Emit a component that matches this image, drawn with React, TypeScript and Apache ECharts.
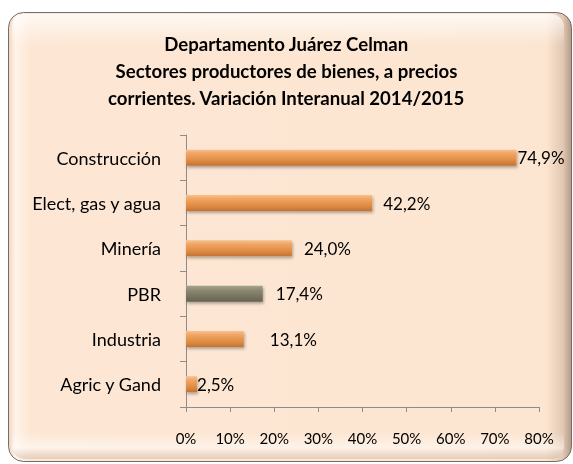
import React, { useEffect, useRef } from "react";
import * as echarts from "echarts";

const categories = ["Construcción", "Elect, gas y agua", "Minería", "PBR", "Industria", "Agric y Gand"];
const values = [74.9, 42.2, 24.0, 17.4, 13.1, 2.5];
const highlighted = ["PBR"];
const xTicks = [0, 10, 20, 30, 40, 50, 60, 70, 80];
const titleLines = [
  "Departamento Juárez Celman",
  "Sectores productores de bienes, a precios",
  "corrientes. Variación Interanual 2014/2015",
];
// label styling (distance from bar end, px) — styling only
const labelDistances = [1, 11, 12, 13, 26, 0];

const FONT = "Lato, 'Noto Sans', sans-serif";

export default function App() {
  const ref = useRef<HTMLDivElement>(null);
  useEffect(() => {
    if (!ref.current) return;
    const chart = echarts.init(ref.current, undefined, { renderer: "svg" });
    const orange = new echarts.graphic.LinearGradient(0, 0, 0, 1, [
      { offset: 0, color: "#F8C08E" },
      { offset: 0.25, color: "#F1A462" },
      { offset: 0.65, color: "#E08D46" },
      { offset: 1, color: "#C47232" },
    ]);
    const gray = new echarts.graphic.LinearGradient(0, 0, 0, 1, [
      { offset: 0, color: "#A7A48E" },
      { offset: 0.3, color: "#8B8871" },
      { offset: 1, color: "#65624F" },
    ]);
    chart.setOption({
      animation: false,
      textStyle: { fontFamily: FONT },
      graphic: [
        {
          type: "rect",
          z: -10,
          silent: true,
          shape: { x: 8.5, y: 12.5, width: 563, height: 449, r: 15 },
          style: {
            fill: new echarts.graphic.LinearGradient(0, 0, 1, 0, [
              { offset: 0, color: "#F2D5BE" },
              { offset: 0.012, color: "#FFF3E9" },
              { offset: 0.04, color: "#FDE7D4" },
              { offset: 0.955, color: "#FCE5D1" },
              { offset: 0.985, color: "#E2C7B1" },
              { offset: 1, color: "#B39A86" },
            ]),
            stroke: "#6E6E6E",
            lineWidth: 1,
          },
        },
        {
          type: "rect",
          z: -9,
          silent: true,
          shape: { x: 12, y: 14, width: 552, height: 445, r: 13 },
          style: {
            fill: new echarts.graphic.LinearGradient(0, 0, 0, 1, [
              { offset: 0, color: "rgba(255,255,255,0.75)" },
              { offset: 0.07, color: "rgba(255,255,255,0)" },
              { offset: 0.94, color: "rgba(255,255,255,0)" },
              { offset: 0.975, color: "rgba(255,255,255,0.5)" },
              { offset: 1, color: "rgba(200,170,150,0.4)" },
            ]),
          },
        },
        ...titleLines.map((t, i) => ({
          type: "text",
          left: "center",
          top: 34 + i * 27,
          style: {
            text: t,
            font: `bold 18.6px ${FONT}`,
            fill: "#000",
          },
        })),
      ],
      grid: { left: 186, right: 34, top: 135, bottom: 57, containLabel: false },
      xAxis: {
        type: "value",
        min: xTicks[0],
        max: xTicks[xTicks.length - 1],
        interval: xTicks[1] - xTicks[0],
        axisLine: { show: true, lineStyle: { color: "#8C8C8C" } },
        axisTick: { show: true, length: 5, lineStyle: { color: "#8C8C8C" } },
        splitLine: { show: false },
        axisLabel: { formatter: "{value}%", fontSize: 15, color: "#000", margin: 23, fontFamily: FONT },
      },
      yAxis: {
        type: "category",
        inverse: true,
        data: categories,
        axisLine: { show: true, lineStyle: { color: "#8C8C8C" } },
        axisTick: { show: true, length: 6, alignWithLabel: false, lineStyle: { color: "#8C8C8C" } },
        axisLabel: { fontSize: 18, color: "#000", margin: 25, fontFamily: FONT },
      },
      series: [
        {
          type: "bar",
          barWidth: 16,
          data: values.map((v, i) => ({
            value: v,
            itemStyle: {
              color: highlighted.includes(categories[i]) ? gray : orange,
              shadowColor: "rgba(0,0,0,0.3)",
              shadowBlur: 3,
              shadowOffsetY: 2,
              shadowOffsetX: 1,
            },
            label: { distance: labelDistances[i] },
          })),
          label: {
            show: true,
            position: "right",
            fontSize: 17,
            color: "#000",
            fontFamily: FONT,
            formatter: (p: any) => p.value.toFixed(1).replace(".", ",") + "%",
          },
        },
      ],
    });
    return () => chart.dispose();
  }, []);
  return <div ref={ref} style={{ position: "fixed", left: 0, top: 0, width: 573, height: 464 }} />;
}
